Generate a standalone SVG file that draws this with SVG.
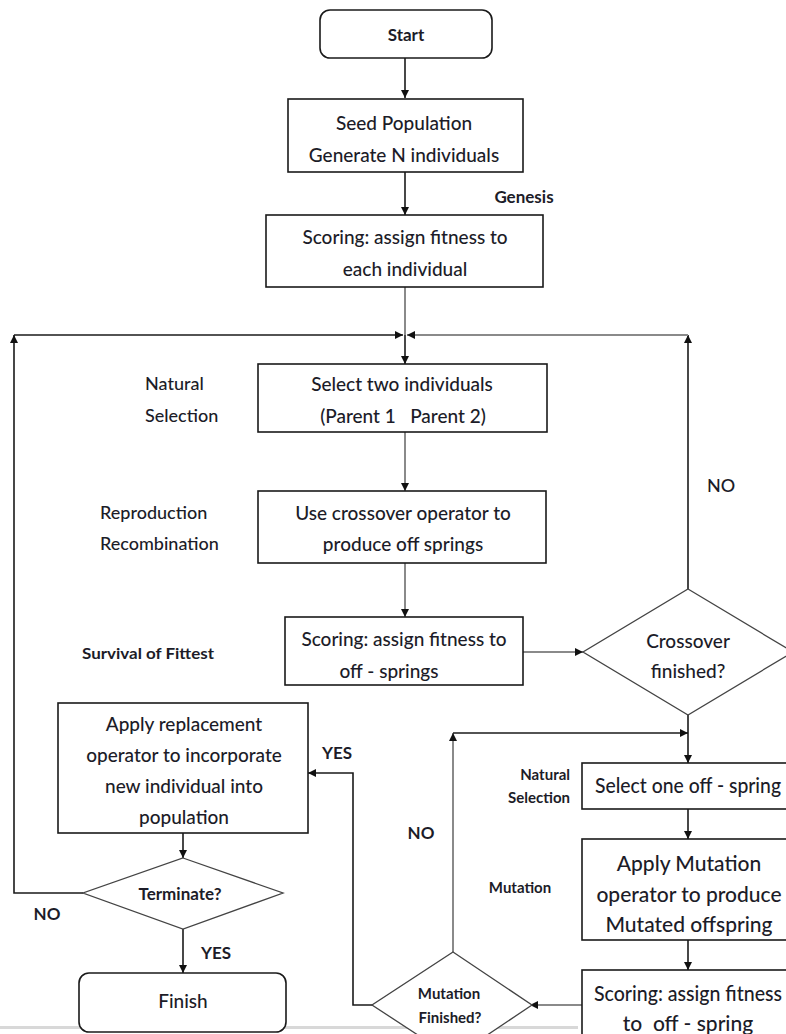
<svg xmlns="http://www.w3.org/2000/svg" width="786" height="1034" viewBox="0 0 786 1034">
<defs>
<marker id="ah" viewBox="0 0 10 10" refX="10" refY="5" markerWidth="8" markerHeight="8" markerUnits="userSpaceOnUse" orient="auto">
<path d="M0,0 L10,5 L0,10 z" fill="#111"/>
</marker>
<style>
.box{fill:#fff;stroke:#1a1a1a;stroke-width:1.6}
.dia{fill:#fff;stroke:#444;stroke-width:1.3}
.ln{fill:none;stroke:#1a1a1a;stroke-width:1.6}
.gl{fill:none;stroke:#8a8a8a;stroke-width:2}
.t{font-family:Lato,"Liberation Sans",sans-serif;font-size:19px;font-weight:500;fill:#1c1c28;text-anchor:middle;dominant-baseline:central}
.tb{font-family:Lato,"Liberation Sans",sans-serif;font-size:17px;font-weight:bold;fill:#1c1c28;text-anchor:middle;dominant-baseline:central}
.lb{font-family:Lato,"Liberation Sans",sans-serif;font-size:18px;font-weight:500;fill:#1c1c28;dominant-baseline:central}
.sb{font-family:Lato,"Liberation Sans",sans-serif;font-size:15px;font-weight:bold;fill:#1c1c28;dominant-baseline:central}
.big{font-family:Lato,"Liberation Sans",sans-serif;font-size:21px;font-weight:500;fill:#1c1c28;text-anchor:middle;dominant-baseline:central}
</style>
</defs>
<rect width="786" height="1034" fill="#fff"/>
<rect x="0" y="1026" width="578" height="3" fill="#d8d8d8"/>

<g id="connectors">
<path class="ln" d="M405,58 V98" marker-end="url(#ah)"/>
<path class="ln" d="M405,172 V215" marker-end="url(#ah)"/>
<path class="gl" d="M405,287 V335"/>
<path class="ln" d="M405,335 V364" marker-end="url(#ah)"/>
<path class="ln" d="M83,893 H14 V335" marker-end="url(#ah)"/>
<path class="ln" d="M14,335 H403" marker-end="url(#ah)"/>
<path class="ln" d="M688,589 V335" marker-end="url(#ah)"/>
<path class="gl" d="M688,335 H407" marker-end="url(#ah)"/>
<path class="gl" d="M405,432 V491" marker-end="url(#ah)"/>
<path class="gl" d="M405,563 V617" marker-end="url(#ah)"/>
<path class="gl" d="M523,652 H583" stroke-width="3" marker-end="url(#ah)"/>
<path class="ln" d="M688,715 V763" marker-end="url(#ah)"/>
<path class="gl" d="M453,952 V733" marker-end="url(#ah)"/>
<path class="ln" d="M453,733 H688" marker-end="url(#ah)"/>
<path class="ln" d="M688,809 V839" marker-end="url(#ah)"/>
<path class="ln" d="M688,940 V970" marker-end="url(#ah)"/>
<path class="gl" d="M582,1005 H530" marker-end="url(#ah)"/>
<path class="ln" d="M372,1005 H353 V773 H308" marker-end="url(#ah)"/>
<path class="ln" d="M183,833 V858" marker-end="url(#ah)"/>
<path class="ln" d="M183,929 V973" marker-end="url(#ah)"/>
</g>

<g id="start">
<rect class="box" x="320" y="10" width="172" height="48" rx="10"/>
<text class="tb" x="406" y="34" font-size="18">Start</text>
</g>
<g id="seed">
<rect class="box" x="288" y="99" width="235" height="73"/>
<text class="t" x="404" y="122">Seed Population</text>
<text class="t" x="404" y="154">Generate N individuals</text>
</g>
<text class="tb" x="524" y="196">Genesis</text>
<g id="scoring1">
<rect class="box" x="266" y="215" width="277" height="72"/>
<text class="t" x="405" y="236">Scoring: assign fitness to</text>
<text class="t" x="405" y="268">each individual</text>
</g>
<text class="lb" x="145" y="383">Natural</text>
<text class="lb" x="145" y="415">Selection</text>
<g id="select2">
<rect class="box" x="258" y="364" width="289" height="68"/>
<text class="t" x="402" y="383">Select two individuals</text>
<text class="t" x="403" y="415" xml:space="preserve">(Parent 1   Parent 2)</text>
</g>
<text class="lb" x="100" y="512">Reproduction</text>
<text class="lb" x="100" y="543">Recombination</text>
<g id="crossover">
<rect class="box" x="258" y="491" width="288" height="72"/>
<text class="t" x="403" y="512">Use crossover operator to</text>
<text class="t" x="403" y="543">produce off springs</text>
</g>
<text class="lb" x="707" y="485">NO</text>
<text class="sb" x="82" y="653" textLength="132" lengthAdjust="spacingAndGlyphs">Survival of Fittest</text>
<g id="scoring2">
<rect class="box" x="285" y="617" width="238" height="68"/>
<text class="t" x="404" y="638">Scoring: assign fitness to</text>
<text class="t" x="389" y="670">off - springs</text>
</g>
<g id="crossdec">
<polygon class="dia" points="688,589 793,652 688,715 583,652"/>
<text class="t" x="688" y="640">Crossover</text>
<text class="t" x="688" y="670">finished?</text>
</g>
<g id="replace">
<rect class="box" x="58" y="703" width="250" height="130"/>
<text class="t" x="184" y="723">Apply replacement</text>
<text class="t" x="184" y="754">operator to incorporate</text>
<text class="t" x="184" y="785">new individual into</text>
<text class="t" x="184" y="816">population</text>
</g>
<text class="tb" x="337" y="752">YES</text>
<g id="terminate">
<polygon class="dia" points="183,858 283,893 183,929 83,893"/>
<text class="tb" x="180" y="893">Terminate?</text>
</g>
<text class="tb" x="47" y="913">NO</text>
<text class="tb" x="216" y="952">YES</text>
<g id="finish">
<rect class="box" x="79" y="973" width="207" height="59" rx="10"/>
<text class="t" x="183" y="1000">Finish</text>
</g>
<text class="sb" x="570" y="774" text-anchor="end">Natural</text>
<text class="sb" x="570" y="797" text-anchor="end">Selection</text>
<text class="tb" x="421" y="832">NO</text>
<text class="sb" x="520" y="887" text-anchor="middle">Mutation</text>
<g id="select1">
<rect class="box" x="582" y="763" width="212" height="46"/>
<text class="big" x="688" y="784" textLength="186" lengthAdjust="spacingAndGlyphs">Select one off - spring</text>
</g>
<g id="mutate">
<rect class="box" x="582" y="839" width="212" height="101"/>
<text class="big" x="689" y="862">Apply Mutation</text>
<text class="big" x="689" y="893">operator to produce</text>
<text class="big" x="689" y="923">Mutated offspring</text>
</g>
<g id="scoring3">
<rect class="box" x="582" y="970" width="212" height="80"/>
<text class="big" x="688" y="992" textLength="188" lengthAdjust="spacingAndGlyphs">Scoring: assign fitness</text>
<text class="big" x="688" y="1022" xml:space="preserve">to  off - spring</text>
</g>
<g id="mutdec">
<polygon class="dia" points="453,952 532,1005 453,1058 372,1005"/>
<text class="sb" x="449" y="993" text-anchor="middle">Mutation</text>
<text class="sb" x="450" y="1017" text-anchor="middle">Finished?</text>
</g>
</svg>
